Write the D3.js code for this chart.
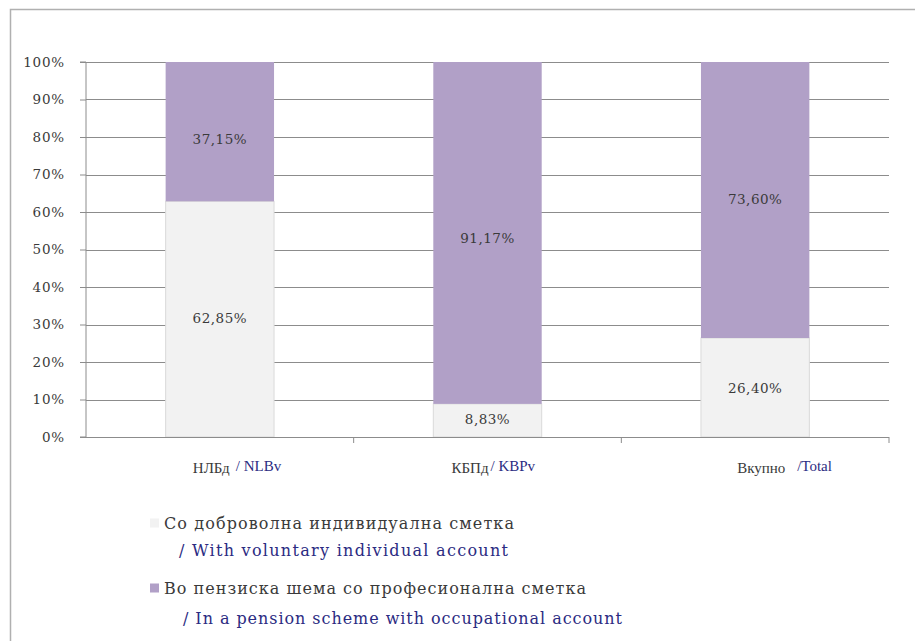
<!DOCTYPE html>
<html>
<head>
<meta charset="utf-8">
<script src="https://cdn.jsdelivr.net/npm/d3@7"></script>
<style>
  body { margin: 0; background: #fff; }
  svg { font-family: "DejaVu Serif", "Liberation Serif", serif; }
</style>
</head>
<body>
<svg id="chart" width="915" height="641"></svg>
<script>
// categories (Macedonian + English)
const categoriesMk = ["НЛБд", "КБПд", "Вкупно"];
const categoriesEn = ["/ NLBv", "/ KBPv", "/Total"];
// series shares in %
const voluntary = [62.85, 8.83, 26.40];
const occupational = [37.15, 91.17, 73.60];
const valueLabels = [["62,85%", "8,83%", "26,40%"], ["37,15%", "91,17%", "73,60%"]];
const seriesMk = ["Со доброволна индивидуална сметка", "Во пензиска шема со професионална сметка"];
const seriesEn = ["/ With  voluntary individual account", "/ In a pension scheme with occupational account"];
const yTicks = [0, 10, 20, 30, 40, 50, 60, 70, 80, 90, 100];

const svg = d3.select("#chart");
const colors = ["#f2f2f2", "#b1a0c7"];
const padding = { top: 62, left: 86, right: 26, bottom: 204 };
const chartArea = { width: 915 - padding.left - padding.right, height: 641 - padding.top - padding.bottom };
const textDark = "#3a3a3a", textBlue = "#2b2b82";

// frame
svg.append("path")
  .attr("d", "M10.5,641 V9.5 H915")
  .attr("fill", "none").attr("stroke", "#b0b0b0").attr("stroke-width", 1.5);

const rows = categoriesMk.map((c, i) => ({ name: c, v: voluntary[i], o: occupational[i], idx: i }));
const stack = d3.stack().keys(["v", "o"])(rows);

const xScale = d3.scaleBand().domain(categoriesMk).range([0, chartArea.width]).paddingInner(0.595).paddingOuter(0.2975);
const xOuter = d3.scaleBand().domain(categoriesMk).range([0, chartArea.width]);
const yScale = d3.scaleLinear().domain([0, 100]).range([chartArea.height, 0]);

const g = svg.append("g").attr("transform", `translate(${padding.left},${padding.top})`);

// gridlines
g.append("g")
  .selectAll("line")
  .data(yTicks.slice(1))
  .join("line")
  .attr("x1", 0).attr("x2", chartArea.width)
  .attr("y1", d => Math.round(yScale(d)) + 0.5).attr("y2", d => Math.round(yScale(d)) + 0.5)
  .attr("stroke", "#8c8c8c").attr("stroke-width", 1);

// bars
const layers = g.append("g").selectAll("g").data(stack).join("g")
  .attr("fill", (d, i) => colors[i]);
layers.selectAll("rect").data(d => d).join("rect")
  .attr("x", d => xScale(d.data.name))
  .attr("width", xScale.bandwidth())
  .attr("y", d => yScale(d[1]))
  .attr("height", d => yScale(d[0]) - yScale(d[1]))
  .attr("stroke", (d, i, n) => d3.select(n[i].parentNode).datum().key === "v" ? "#dadada" : "none")
  .attr("stroke-width", 1);

// value labels (small nudges like the original)
const labelNudge = [[0, 0, 2], [9, 7, 0]];
layers.selectAll("text").data((d, k) => d.map(p => ({ p, k }))).join("text")
  .attr("x", d => xScale(d.p.data.name) + xScale.bandwidth() / 2)
  .attr("y", d => yScale((d.p[0] + d.p[1]) / 2) + labelNudge[d.k][d.p.data.idx])
  .attr("text-anchor", "middle").attr("dominant-baseline", "middle")
  .attr("fill", textDark).attr("font-size", 13.5).attr("letter-spacing", 0.5)
  .text(d => valueLabels[d.k][d.p.data.idx]);

// y axis
const yAxis = g.append("g")
  .call(d3.axisLeft(yScale).tickValues(yTicks).tickFormat(d => d + "%").tickSize(6).tickPadding(15));
yAxis.select(".domain").attr("stroke", "#8c8c8c").attr("d", `M-6,${chartArea.height}H0V0H-6`);
yAxis.selectAll(".tick line").attr("stroke", "#8c8c8c");
yAxis.selectAll(".tick text").attr("font-family", "DejaVu Serif").attr("font-size", 13.5)
  .attr("letter-spacing", 0.8).attr("fill", textDark);

// x axis
const xAxis = g.append("g").attr("transform", `translate(0,${chartArea.height})`);
xAxis.append("line").attr("x1", 0).attr("x2", chartArea.width).attr("y1", 0.5).attr("y2", 0.5).attr("stroke", "#8c8c8c");
xAxis.selectAll("line.sep").data(categoriesMk).join("line").attr("class", "sep")
  .attr("x1", d => xOuter(d) + xOuter.bandwidth()).attr("x2", d => xOuter(d) + xOuter.bandwidth())
  .attr("y1", 0).attr("y2", 6).attr("stroke", "#8c8c8c");

const labelStart = [-27, -36, -18];
const enGap = [43, 39, 60];
const catG = xAxis.selectAll("g.cat").data(categoriesMk).join("g").attr("class", "cat")
  .attr("transform", (d, i) => `translate(${xOuter(d) + xOuter.bandwidth() / 2 + labelStart[i]},36)`)
  .attr("font-family", "Liberation Serif").attr("font-size", 15);
catG.append("text").attr("fill", textDark).text(d => d);
catG.append("text").attr("x", (d, i) => enGap[i]).attr("y", -2)
  .attr("fill", textBlue).text((d, i) => categoriesEn[i]);

// legend
const legendY = [523, 588];
const legendEnY = [550, 618];
const legendMkW = [350, 422];
const legendEnW = [329, 439];
const legend = svg.append("g").selectAll("g").data(seriesMk).join("g")
  .attr("transform", (d, i) => `translate(150,${legendY[i]})`);
legend.append("rect").attr("x", 0).attr("y", -4.5).attr("width", 9).attr("height", 9)
  .attr("fill", (d, i) => colors[i]);
legend.append("text").attr("x", 14).attr("y", 6).attr("font-size", 16)
  .attr("textLength", (d, i) => legendMkW[i]).attr("lengthAdjust", "spacing")
  .attr("fill", textDark).text(d => d);
legend.append("text").attr("x", (d, i) => i === 0 ? 29 : 33).attr("y", (d, i) => legendEnY[i] - legendY[i] + 6)
  .attr("font-size", 16).attr("textLength", (d, i) => legendEnW[i]).attr("lengthAdjust", "spacing")
  .attr("fill", textBlue)
  .text((d, i) => seriesEn[i]);
</script>
</body>
</html>
